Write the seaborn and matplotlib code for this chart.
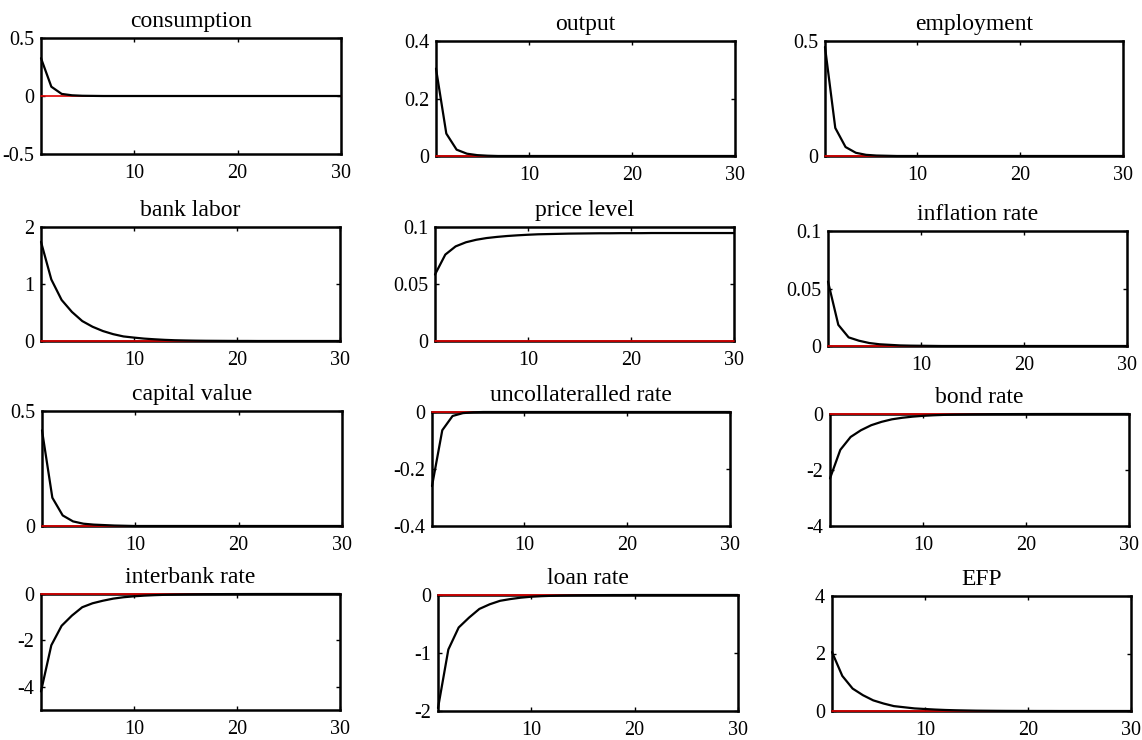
import numpy as np
import pandas as pd
import seaborn as sns
import matplotlib
matplotlib.use("Agg")
import matplotlib.pyplot as plt

# impulse responses, periods 1..30
periods = list(range(1, 31))

consumption = [0.326, 0.08, 0.018, 0.006, 0.002, 0.001] + [0.0] * 24
output = [0.304, 0.078, 0.022, 0.008, 0.003, 0.001] + [0.0] * 24
employment = [0.474, 0.122, 0.039, 0.014, 0.005, 0.002, 0.001] + [0.0] * 23
bank_labor = [1.74, 1.08, 0.72, 0.51, 0.35, 0.25, 0.175, 0.12, 0.08, 0.06,
              0.042, 0.03, 0.02, 0.013, 0.009, 0.006, 0.004, 0.003, 0.002, 0.001,
              0.001, 0.0, 0.0, 0.0, 0.0, 0.0, 0.0, 0.0, 0.0, 0.0]
price_level = [0.0583, 0.0758, 0.0830, 0.0866, 0.0888, 0.0903, 0.0913, 0.0921, 0.0927, 0.0932,
               0.0936, 0.0938, 0.0940, 0.0942, 0.0943, 0.0944, 0.0945, 0.0945, 0.0946, 0.0946,
               0.0946, 0.0947, 0.0947, 0.0947, 0.0947, 0.0947, 0.0947, 0.0947, 0.0947, 0.0947]
inflation_rate = [0.056, 0.0184, 0.0075, 0.0046, 0.0026, 0.0015, 0.001, 0.0005, 0.0003, 0.0002,
                  0.0001] + [0.0] * 19
capital_value = [0.416, 0.123, 0.046, 0.02, 0.01, 0.006, 0.004, 0.002, 0.001] + [0.0] * 21
uncollat_rate = [-0.26, -0.064, -0.014, -0.004, -0.001] + [0.0] * 25
bond_rate = [-2.3, -1.28, -0.82, -0.58, -0.40, -0.28, -0.19, -0.135, -0.095, -0.066,
             -0.046, -0.032, -0.022, -0.016, -0.011, -0.008, -0.005, -0.004, -0.003, -0.002,
             -0.001, -0.001, 0.0, 0.0, 0.0, 0.0, 0.0, 0.0, 0.0, 0.0]
interbank_rate = [-4.2, -2.21, -1.37, -0.93, -0.57, -0.40, -0.29, -0.2, -0.14, -0.1,
                  -0.07, -0.05, -0.035, -0.025, -0.017, -0.012, -0.008, -0.006, -0.004, -0.003,
                  -0.002, -0.001, -0.001, 0.0, 0.0, 0.0, 0.0, 0.0, 0.0, 0.0]
loan_rate = [-1.95, -0.94, -0.56, -0.39, -0.24, -0.16, -0.1, -0.07, -0.046, -0.03,
             -0.02, -0.014, -0.009, -0.006, -0.004, -0.003, -0.002, -0.001, -0.001, 0.0,
             0.0, 0.0, 0.0, 0.0, 0.0, 0.0, 0.0, 0.0, 0.0, 0.0]
efp = [2.05, 1.22, 0.78, 0.55, 0.37, 0.26, 0.17, 0.13, 0.09, 0.07,
       0.05, 0.035, 0.025, 0.018, 0.012, 0.009, 0.006, 0.004, 0.003, 0.002,
       0.001, 0.001, 0.0, 0.0, 0.0, 0.0, 0.0, 0.0, 0.0, 0.0]

titles = ["consumption", "output", "employment",
          "bank labor", "price level", "inflation rate",
          "capital value", "uncollateralled rate", "bond rate",
          "interbank rate", "loan rate", "EFP"]
series = [consumption, output, employment,
          bank_labor, price_level, inflation_rate,
          capital_value, uncollat_rate, bond_rate,
          interbank_rate, loan_rate, efp]
ylims = [(-0.5, 0.5), (0, 0.4), (0, 0.5),
         (0, 2), (0, 0.1), (0, 0.1),
         (0, 0.5), (-0.4, 0), (-4, 0),
         (-5, 0), (-2, 0), (0, 4)]
yticks = [[-0.5, 0, 0.5], [0, 0.2, 0.4], [0, 0.5],
          [0, 1, 2], [0, 0.05, 0.1], [0, 0.05, 0.1],
          [0, 0.5], [-0.4, -0.2, 0], [-4, -2, 0],
          [-4, -2, 0], [-2, -1, 0], [0, 2, 4]]
ylabels = [["-0.5", "0", "0.5"], ["0", "0.2", "0.4"], ["0", "0.5"],
           ["0", "1", "2"], ["0", "0.05", "0.1"], ["0", "0.05", "0.1"],
           ["0", "0.5"], ["-0.4", "-0.2", "0"], ["-4", "-2", "0"],
           ["-4", "-2", "0"], ["-2", "-1", "0"], ["0", "2", "4"]]

# axes boxes in pixels: left, right, top, bottom
boxes = [(41, 341, 38, 154), (436, 735, 41, 156), (825, 1123, 41, 156),
         (41, 340, 227, 341), (435, 734, 227, 341), (828, 1127, 231, 346),
         (42, 342, 411, 526), (432, 730, 412, 526), (830, 1129, 414, 526),
         (41, 340, 594, 710), (438, 738, 595, 711), (832, 1131, 596, 711)]

sns.set_style("ticks")
plt.rcParams["font.family"] = ["Liberation Serif", "DejaVu Serif"]
plt.rcParams["text.color"] = "black"

W, H = 1142, 740
fig = plt.figure(figsize=(W / 100, H / 100), dpi=100)

for i in range(12):
    l, r, t, b = boxes[i]
    ax = fig.add_axes([l / W, 1 - b / H, (r - l) / W, (b - t) / H])
    df = pd.DataFrame({"t": periods, "irf": series[i], "zero": [0.0] * 30})
    sns.lineplot(data=df, x="t", y="zero", ax=ax, color="#e00000", linewidth=1.2,
                 clip_on=False, zorder=2.6)
    sns.lineplot(data=df, x="t", y="irf", ax=ax, color="black", linewidth=1.6,
                 clip_on=False, zorder=3)
    ax.set_xlim(1, 30)
    ax.set_ylim(*ylims[i])
    ax.set_xticks([10, 20, 30])
    ax.set_yticks(yticks[i])
    ax.set_yticklabels(ylabels[i])
    ax.set_xlabel("")
    ax.set_ylabel("")
    ax.set_title(titles[i], fontsize=17, pad=8, color="black")
    ax.tick_params(direction="in", length=3, width=1, labelsize=14.5,
                   top=True, right=True, colors="black")
    ax.tick_params(axis="y", pad=5)
    ax.tick_params(axis="x", pad=7)
    for s in ax.spines.values():
        s.set_linewidth(1.8)
        s.set_color("black")
        s.set_visible(True)

fig.savefig("out.png", dpi=100)
